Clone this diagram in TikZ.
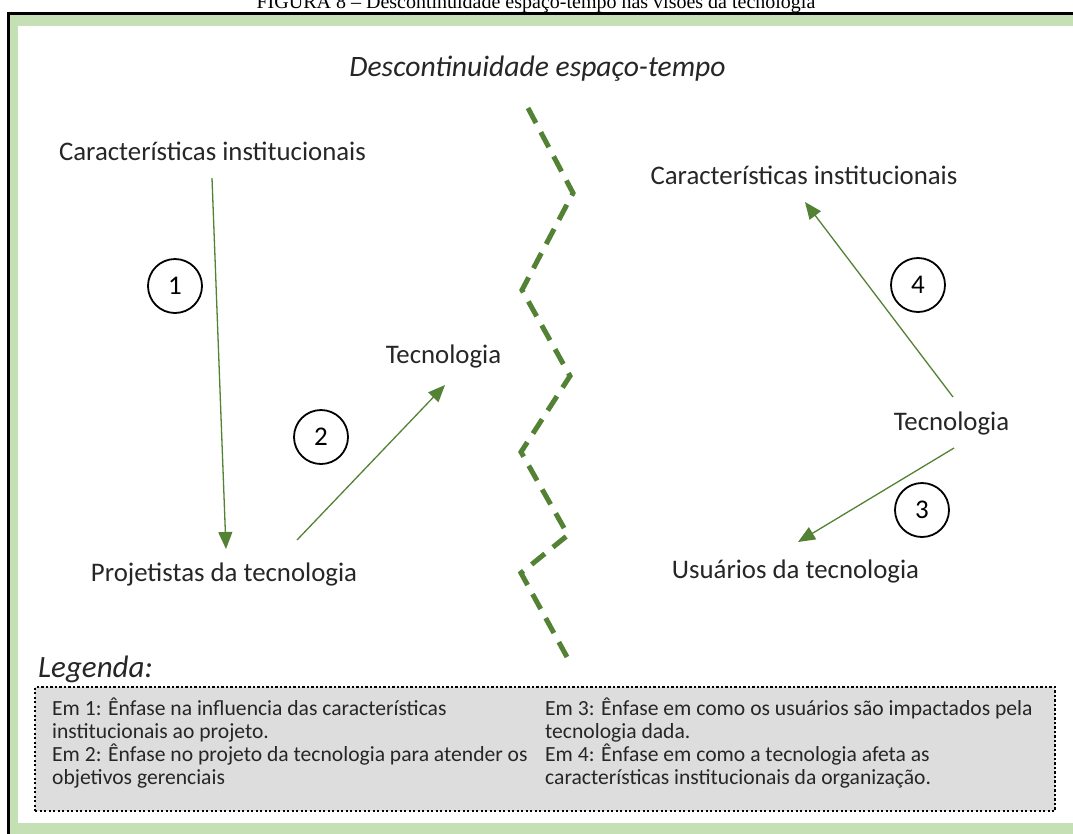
\documentclass[tikz,border=0pt]{standalone}
\usepackage{fontspec}
\setmainfont{Carlito}
\newfontfamily\capfont{Liberation Serif}
\usetikzlibrary{arrows.meta}
\definecolor{framegreen}{HTML}{C5E0B4}
\definecolor{darkgreen}{HTML}{548235}
\definecolor{legendgray}{HTML}{DDDDDD}
\tikzset{
  lbl/.style={inner sep=0pt, anchor=base, font=\fontsize{26.8}{30}\selectfont, text=black!85},
  numc/.style={circle, draw=black, line width=1.8pt, minimum size=54pt, inner sep=0pt,
               font=\fontsize{27}{30}\selectfont},
  flow/.style={draw=darkgreen, line width=1.3pt,
               -{Triangle[length=17pt,width=14pt,fill=darkgreen]}},
  zz/.style={draw=darkgreen, line width=5pt, dash pattern=on 17pt off 10.36pt},
  legbox/.style={draw=black, fill=legendgray, line width=2.2pt,
                 dash pattern=on 2.2pt off 2.3pt, inner sep=0pt},
  legtxt/.style={inner sep=0pt, anchor=base west, align=left,
                 font=\fontsize{21.6}{23}\selectfont, text=black!85}
}
\begin{document}
\begin{tikzpicture}[x=1pt, y=-1pt]
\useasboundingbox (0,0) rectangle (1073,833);
\clip (0,0) rectangle (1073,833);
% caption above the frame
\node[inner sep=0pt, anchor=base, font=\capfont\fontsize{20}{24}\selectfont] (cap) at (536,8)
  {FIGURA 8 – Descontinuidade espaço-tempo nas visões da tecnologia};
% frame: black outline, green band, white panel
\fill[black] (7,12) rectangle (1090,850);
\fill[framegreen] (10,15) rectangle (1090,850);
\fill[white] (18,26) rectangle (1090,823);

% heading
\node[lbl, font=\itshape\fontsize{29.6}{32}\selectfont] (head) at (537.5,76) {Descontinuidade espaço-tempo};

% left side
\node[lbl] (lci) at (212.5,160) {Características institucionais};
\node[lbl] (proj) at (224,581) {Projetistas da tecnologia};
\node[lbl] (tec1) at (443.5,363) {Tecnologia};
\node[numc] (n1) at (175,286) {1};
\node[numc] (n2) at (321,437) {2};
\coordinate (a1s) at (212,178);
\coordinate (a1e) at (226,549);
\coordinate (a2s) at (297,540);
\coordinate (a2e) at (445,385);
\draw[flow] (a1s) -- (a1e);
\draw[flow] (a2s) -- (a2e);

% space-time discontinuity
\coordinate (z0) at (528,108);
\coordinate (z1) at (573,193);
\coordinate (z2) at (522,290);
\coordinate (z3) at (570,376);
\coordinate (z4) at (521,452);
\coordinate (z5) at (568,535);
\coordinate (z6) at (521,573);
\coordinate (z7) at (567,657);
\draw[zz] (z0) -- (z1) -- (z2) -- (z3) -- (z4) -- (z5) -- (z6) -- (z7);

% right side
\node[lbl] (rci) at (804,184) {Características institucionais};
\node[lbl] (tec2) at (951.5,430) {Tecnologia};
\node[lbl] (usu) at (795.5,578) {Usuários da tecnologia};
\node[numc] (n4) at (918,285) {4};
\node[numc] (n3) at (922,510) {3};
\coordinate (a4s) at (953,397);
\coordinate (a4e) at (805,202);
\coordinate (a3s) at (954,448);
\coordinate (a3e) at (798,542);
\draw[flow] (a4s) -- (a4e);
\draw[flow] (a3s) -- (a3e);

% legend (multi-line nodes: base anchor sits on the last line)
\node[lbl, anchor=base west, font=\itshape\fontsize{31}{34}\selectfont] (legt) at (38,677) {Legenda:};
\node[legbox, minimum width=1020pt, minimum height=124pt] (leg) at (545,749) {};
\node[legtxt] (legl) at (52,784) {Em 1: Ênfase na influencia das características\\
institucionais ao projeto.\\
Em 2: Ênfase no projeto da tecnologia para atender os\\
objetivos gerenciais};
\node[legtxt] (legr) at (545,784) {Em 3: Ênfase em como os usuários são impactados pela\\
tecnologia dada.\\
Em 4: Ênfase em como a tecnologia afeta as\\
características institucionais da organização.};
\end{tikzpicture}
\end{document}
